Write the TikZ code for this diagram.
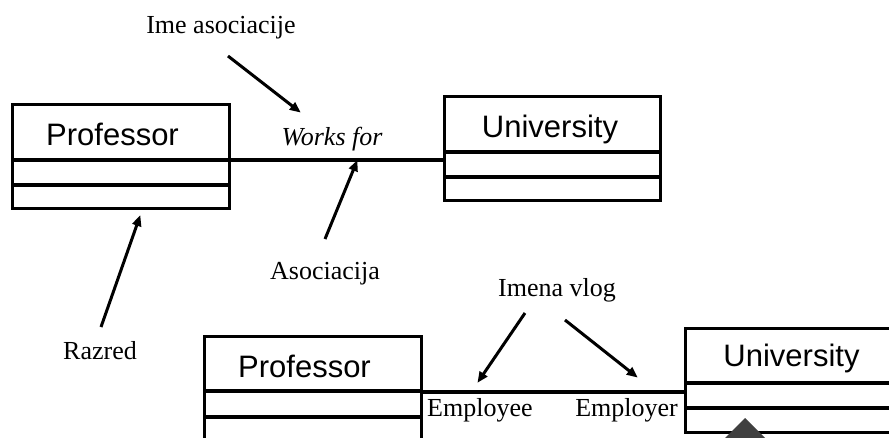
\documentclass[tikz,border=0pt]{standalone}
\usepackage{fontspec}
\setmainfont{Liberation Serif}
\newfontfamily\clsfont{Liberation Sans}
\usetikzlibrary{arrows.meta}
\definecolor{tridark}{HTML}{404040}
\tikzset{
  classbox/.style={draw, line width=3pt, inner sep=0pt, outer sep=0pt, minimum width=217pt, minimum height=104pt, anchor=north west},
  sepline/.style={line width=4pt},
  assocline/.style={line width=4pt},
  clsname/.style={font=\clsfont\fontsize{31}{34}\selectfont, inner sep=0pt, anchor=base},
  lbl/.style={font=\fontsize{26}{30}\selectfont, inner sep=0pt, anchor=base},
  pointer/.style={line width=3pt, -{Triangle[length=11pt,width=9pt]}, shorten >=-1pt}
}
\begin{document}
\begin{tikzpicture}[x=1pt,y=-1pt]
\useasboundingbox (0,0) rectangle (889,437);
\clip (0,0) rectangle (889,437);
\fill[white] (0,0) rectangle (889,437);

% ---- top diagram ----
\node[classbox] (p1) at (12,104) {};
\draw[sepline] ([yshift=-56pt]p1.north west) -- ([yshift=-56pt]p1.north east);
\draw[sepline] ([yshift=-81pt]p1.north west) -- ([yshift=-81pt]p1.north east);
\node[clsname] (p1name) at (112.5,145) {Professor};

\node[classbox, minimum width=216pt] (u1) at (444,96) {};
\draw[sepline] ([yshift=-56pt]u1.north west) -- ([yshift=-56pt]u1.north east);
\draw[sepline] ([yshift=-81pt]u1.north west) -- ([yshift=-81pt]u1.north east);
\node[clsname] (u1name) at (550,137) {University};

\draw[assocline] ([yshift=-55.5pt]p1.north east) -- ([yshift=-63.5pt]u1.north west);

\node[lbl] (ime) at (221,33) {Ime asociacije};
\node[lbl, font=\itshape\fontsize{26}{30}\selectfont] (works) at (332,145) {Works for};
\coordinate (imeS) at (228,56);
\coordinate (imeE) at (300,112);
\draw[pointer] (imeS) -- (imeE);

\node[lbl] (asoc) at (325,279) {Asociacija};
\coordinate (asocS) at (325,239);
\coordinate (asocE) at (357,161);
\draw[pointer] (asocS) -- (asocE);

\node[lbl] (razred) at (100,359) {Razred};
\coordinate (razS) at (101,327);
\coordinate (razE) at (140,216);
\draw[pointer] (razS) -- (razE);

% ---- bottom diagram ----
\node[classbox] (p2) at (204,336) {};
\draw[sepline] ([yshift=-55pt]p2.north west) -- ([yshift=-55pt]p2.north east);
\draw[sepline] ([yshift=-81pt]p2.north west) -- ([yshift=-81pt]p2.north east);
\node[clsname] (p2name) at (304.5,377) {Professor};

\node[classbox, minimum width=240pt] (u2) at (685,328) {};
\draw[sepline] ([yshift=-55pt]u2.north west) -- ([yshift=-55pt]u2.north east);
\draw[sepline] ([yshift=-80pt]u2.north west) -- ([yshift=-80pt]u2.north east);
\node[clsname] (u2name) at (791.5,366) {University};

\draw[assocline] ([yshift=-55.5pt]p2.north east) -- ([yshift=-63.5pt]u2.north west);

\node[lbl, anchor=base west] (employee) at (427,416) {Employee};
\node[lbl, anchor=base east] (employer) at (678,416) {Employer};

\node[lbl] (imena) at (557,296) {Imena vlog};
\coordinate (vlog1S) at (525,313);
\coordinate (vlog1E) at (478,382);
\coordinate (vlog2S) at (565,320);
\coordinate (vlog2E) at (637,377);
\draw[pointer] (vlog1S) -- (vlog1E);
\draw[pointer] (vlog2S) -- (vlog2E);

% grey marker
\fill[tridark] (745,418) -- (772,445) -- (718,445) -- cycle;
\end{tikzpicture}
\end{document}
